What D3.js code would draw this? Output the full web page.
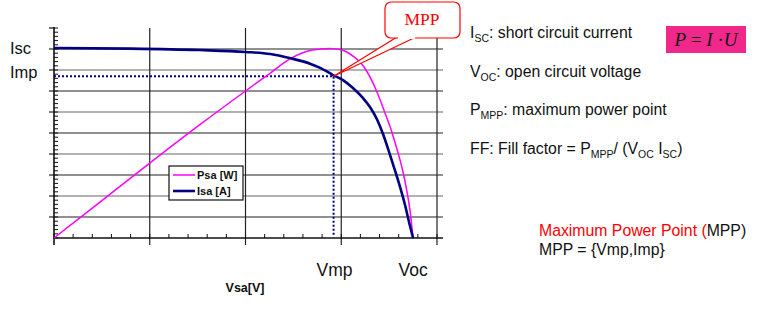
<!DOCTYPE html>
<html lang="en">
<head>
<meta charset="UTF-8">
<title>Solar cell I-V / P-V curve</title>
<style>
  body { margin: 0; background: #fff; font-family: Arial, 'Liberation Sans', sans-serif; }
  svg { display: block; }
</style>
</head>
<body>
<svg id="chart" width="783" height="329"></svg>
<script src="https://cdn.jsdelivr.net/npm/d3@7/dist/d3.min.js"></script>
<script>
// values (V in volts, I in amps, P in watts)
var voltI   = [0, 4, 7.6, 10, 11.3, 12.3, 13.4, 13.9, 14.57, 15.09, 15.61, 16.13, 16.5, 16.87, 17.18, 17.44, 17.7, 18.07, 18.33, 18.59, 18.75];
var current = [9.05, 9.02, 8.95, 8.86, 8.76, 8.57, 8.29, 8.1, 7.76, 7.52, 7.14, 6.67, 6.24, 5.64, 4.95, 4.26, 3.52, 2.43, 1.57, 0.57, 0];
var voltP   = [0, 2.4, 5.0, 7.6, 10, 11.3, 12.3, 13.5, 14.4, 15.04, 15.61, 15.98, 16.34, 16.81, 17.28, 17.65, 17.96, 18.22, 18.43, 18.59, 18.75];
var power   = [0, 21.4, 44.6, 67.3, 87.5, 98.2, 106.5, 111.9, 112.8, 111.9, 108.3, 104.7, 99.1, 88.4, 74.6, 62.8, 50.9, 39.6, 27.7, 16.4, 0];
var mpp     = {v: 14.6, i: 7.7};
var isc     = 9.05, voc = 18.75;
var legendNames  = ['Psa [W]', 'Isa [A]'];
var legendColors = ['#ff00ff', '#000080'];

var svg = d3.select('#chart');
var pL = 54, pR = 437, pT = 28, pB = 238;

var x  = d3.scaleLinear().domain([0, 20]).range([pL, pR]);
var y  = d3.scaleLinear().domain([0, 10]).range([pB, pT]);
var yp = d3.scaleLinear().domain([0, 125]).range([pB, pT]);

// horizontal grid + right stubs
var g = svg.append('g');
d3.range(1, 10).forEach(function (k) {
  g.append('line').attr('x1', pL).attr('x2', pR + 6).attr('y1', y(k)).attr('y2', y(k))
    .attr('stroke', k % 2 ? '#222' : '#666').attr('stroke-width', 1.2);
  g.append('line').attr('x1', pL - 5).attr('x2', pL).attr('y1', y(k)).attr('y2', y(k))
    .attr('stroke', '#222').attr('stroke-width', 1.2);
});
// vertical grid
[5, 10, 15, 20].forEach(function (v) {
  g.append('line').attr('x1', x(v)).attr('x2', x(v)).attr('y1', pT).attr('y2', pB + 7)
    .attr('stroke', '#222').attr('stroke-width', 1.2);
});
// left axis with minor ticks
g.append('line').attr('x1', pL).attr('x2', pL).attr('y1', pT - 1).attr('y2', pB + 7)
  .attr('stroke', '#111').attr('stroke-width', 1.6);
d3.range(0, 10.01, 0.2).forEach(function (t) {
  g.append('line').attr('x1', pL).attr('x2', pL + 4).attr('y1', y(t)).attr('y2', y(t))
    .attr('stroke', '#111').attr('stroke-width', 1);
});
g.append('line').attr('x1', pL - 5).attr('x2', pL).attr('y1', y(10)).attr('y2', y(10))
  .attr('stroke', '#111').attr('stroke-width', 1.2);
// bottom axis with minor ticks
g.append('line').attr('x1', pL).attr('x2', pR + 6).attr('y1', pB).attr('y2', pB)
  .attr('stroke', '#111').attr('stroke-width', 1.6);
d3.range(0, 20.01, 1).forEach(function (t) {
  g.append('line').attr('x1', x(t)).attr('x2', x(t)).attr('y1', pB).attr('y2', pB - 4)
    .attr('stroke', '#111').attr('stroke-width', 1);
});

// MPP dotted guides
svg.append('path')
  .attr('d', 'M' + pL + ',' + y(mpp.i) + 'H' + x(mpp.v) + 'V' + (pB - 2))
  .attr('fill', 'none').attr('stroke', '#000080').attr('stroke-width', 2)
  .attr('stroke-dasharray', '2,2');

// curves
var lineI = d3.line().x(function (d, i) { return x(voltI[i]); }).y(function (d) { return y(d); })
  .curve(d3.curveMonotoneX);
var lineP = d3.line().x(function (d, i) { return x(voltP[i]); }).y(function (d) { return yp(d); })
  .curve(d3.curveMonotoneX);
svg.append('path').attr('d', lineP(power)).attr('fill', 'none')
  .attr('stroke', legendColors[0]).attr('stroke-width', 1.5);
svg.append('path').attr('d', lineI(current)).attr('fill', 'none')
  .attr('stroke', legendColors[1]).attr('stroke-width', 2.6);

// legend
var lg = svg.append('g').attr('transform', 'translate(169,166)');
lg.append('rect').attr('width', 74).attr('height', 34).attr('fill', '#fff')
  .attr('stroke', '#111').attr('stroke-width', 1.2);
legendNames.forEach(function (n, i) {
  lg.append('line').attr('x1', 4).attr('x2', 26).attr('y1', 9 + i * 16).attr('y2', 9 + i * 16)
    .attr('stroke', legendColors[i]).attr('stroke-width', i ? 2.6 : 1.5);
  lg.append('text').attr('x', 28).attr('y', 13 + i * 16).text(n)
    .attr('font-size', 11).attr('font-weight', 'bold').attr('fill', '#111');
});

// axis labels
var lab = svg.append('g').attr('font-family', 'Arial, Liberation Sans, sans-serif').attr('fill', '#111');
lab.append('text').attr('x', 10).attr('y', y(isc) + 6).attr('font-size', 16.5).text('Isc');
lab.append('text').attr('x', 10).attr('y', y(mpp.i) + 2).attr('font-size', 16.5).text('Imp');
lab.append('text').attr('x', x(mpp.v) + 1).attr('y', 276).attr('text-anchor', 'middle')
  .attr('font-size', 17.5).text('Vmp');
lab.append('text').attr('x', x(voc)).attr('y', 276).attr('text-anchor', 'middle')
  .attr('font-size', 17.5).text('Voc');
lab.append('text').attr('x', 245).attr('y', 292).attr('text-anchor', 'middle')
  .attr('font-size', 12.5).attr('font-weight', 'bold').text('Vsa[V]');

// MPP callout
var cx = x(mpp.v), cy = y(mpp.i);
svg.append('path')
  .attr('d', 'M397,37L' + cx + ',' + cy + 'L416,37')
  .attr('fill', '#fff').attr('stroke', '#ff0000').attr('stroke-width', 1.2);
svg.append('rect').attr('x', 385).attr('y', 2).attr('width', 75).attr('height', 36).attr('rx', 6)
  .attr('fill', '#fff').attr('stroke', '#ff0000').attr('stroke-width', 1.2);
svg.append('line').attr('x1', 398).attr('x2', 415).attr('y1', 38).attr('y2', 38)
  .attr('stroke', '#fff').attr('stroke-width', 2);
svg.append('text').attr('x', 422).attr('y', 25).attr('text-anchor', 'middle')
  .attr('font-family', 'Liberation Serif, Times New Roman, serif').attr('font-size', 17.5)
  .attr('fill', '#ff0000').text('MPP');

// right-hand notes
var notes = svg.append('g').attr('font-size', 15.8).attr('fill', '#111');
function sub(t, s) { t.append('tspan').attr('font-size', 10.5).attr('dy', 4).text(s); }
function up(t, s) { t.append('tspan').attr('dy', -4).text(s); }
var t1 = notes.append('text').attr('x', 470).attr('y', 38);
t1.append('tspan').text('I'); sub(t1, 'SC'); up(t1, ': short circuit current');
var t2 = notes.append('text').attr('x', 470).attr('y', 77);
t2.append('tspan').text('V'); sub(t2, 'OC'); up(t2, ': open circuit voltage');
var t3 = notes.append('text').attr('x', 470).attr('y', 115);
t3.append('tspan').text('P'); sub(t3, 'MPP'); up(t3, ': maximum power point');
var t4 = notes.append('text').attr('x', 470).attr('y', 154);
t4.append('tspan').text('FF: Fill factor = P'); sub(t4, 'MPP'); up(t4, '/ (V');
sub(t4, 'OC'); up(t4, ' I'); sub(t4, 'SC'); up(t4, ')');

// formula box
svg.append('rect').attr('x', 666).attr('y', 26).attr('width', 80).attr('height', 27).attr('fill', '#f0288c');
var f = svg.append('text').attr('x', 706).attr('y', 46).attr('text-anchor', 'middle')
  .attr('font-family', 'Liberation Serif, Times New Roman, serif').attr('font-size', 19).attr('fill', '#111');
f.append('tspan').attr('font-style', 'italic').text('P');
f.append('tspan').text(' = ');
f.append('tspan').attr('font-style', 'italic').text('I');
f.append('tspan').text(' \u00b7');
f.append('tspan').attr('font-style', 'italic').text('U');

// MPP definition
var m1 = notes.append('text').attr('x', 539).attr('y', 236);
m1.append('tspan').attr('fill', '#ff0000').text('Maximum Power Point (');
m1.append('tspan').text('MPP)');
notes.append('text').attr('x', 539).attr('y', 255).text('MPP = {Vmp,Imp}');
</script>
</body>
</html>
